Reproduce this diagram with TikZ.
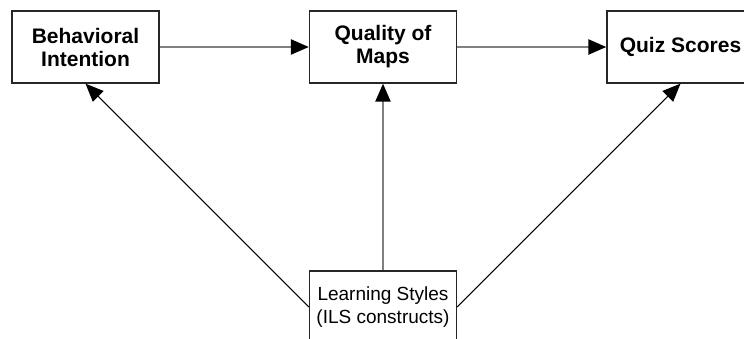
\documentclass[tikz,border=0pt]{standalone}
\usepackage{fontspec}
\setmainfont{Liberation Sans}
\usetikzlibrary{arrows.meta}
\begin{document}
\begin{tikzpicture}[x=1pt,y=-1pt,
  box/.style={draw=black!85, line width=1.3pt, fill=white, minimum width=147pt, minimum height=72pt, inner sep=0pt, align=center, anchor=center},
  topbox/.style={box, font=\fontsize{21}{23}\selectfont\bfseries},
  botbox/.style={box, font=\fontsize{19}{23}\selectfont},
  tip/.style={-{Triangle[length=18pt,width=15pt,black]}},
  grayarrow/.style={tip, draw=black!50, line width=2.4pt},
  blackarrow/.style={tip, draw=black, line width=1pt}]
\useasboundingbox (0,0) rectangle (744,339);
\clip (0,0) rectangle (744,339);
\node[topbox] (bi) at (85.5,47) {Behavioral\\Intention};
\node[topbox] (qm) at (383,47) {Quality of\\Maps};
\node[topbox] (qs) at (680.5,47) {Quiz Scores};
\node[botbox] (ls) at (383,307) {Learning Styles\\(ILS constructs)};
\draw[grayarrow] (bi.east) -- (qm.west);
\draw[grayarrow] (qm.east) -- (qs.west);
\draw[grayarrow] (ls.north) -- (qm.south);
\draw[blackarrow] (ls.west) -- (bi.south);
\draw[blackarrow] (ls.east) -- (qs.south);
\end{tikzpicture}
\end{document}
